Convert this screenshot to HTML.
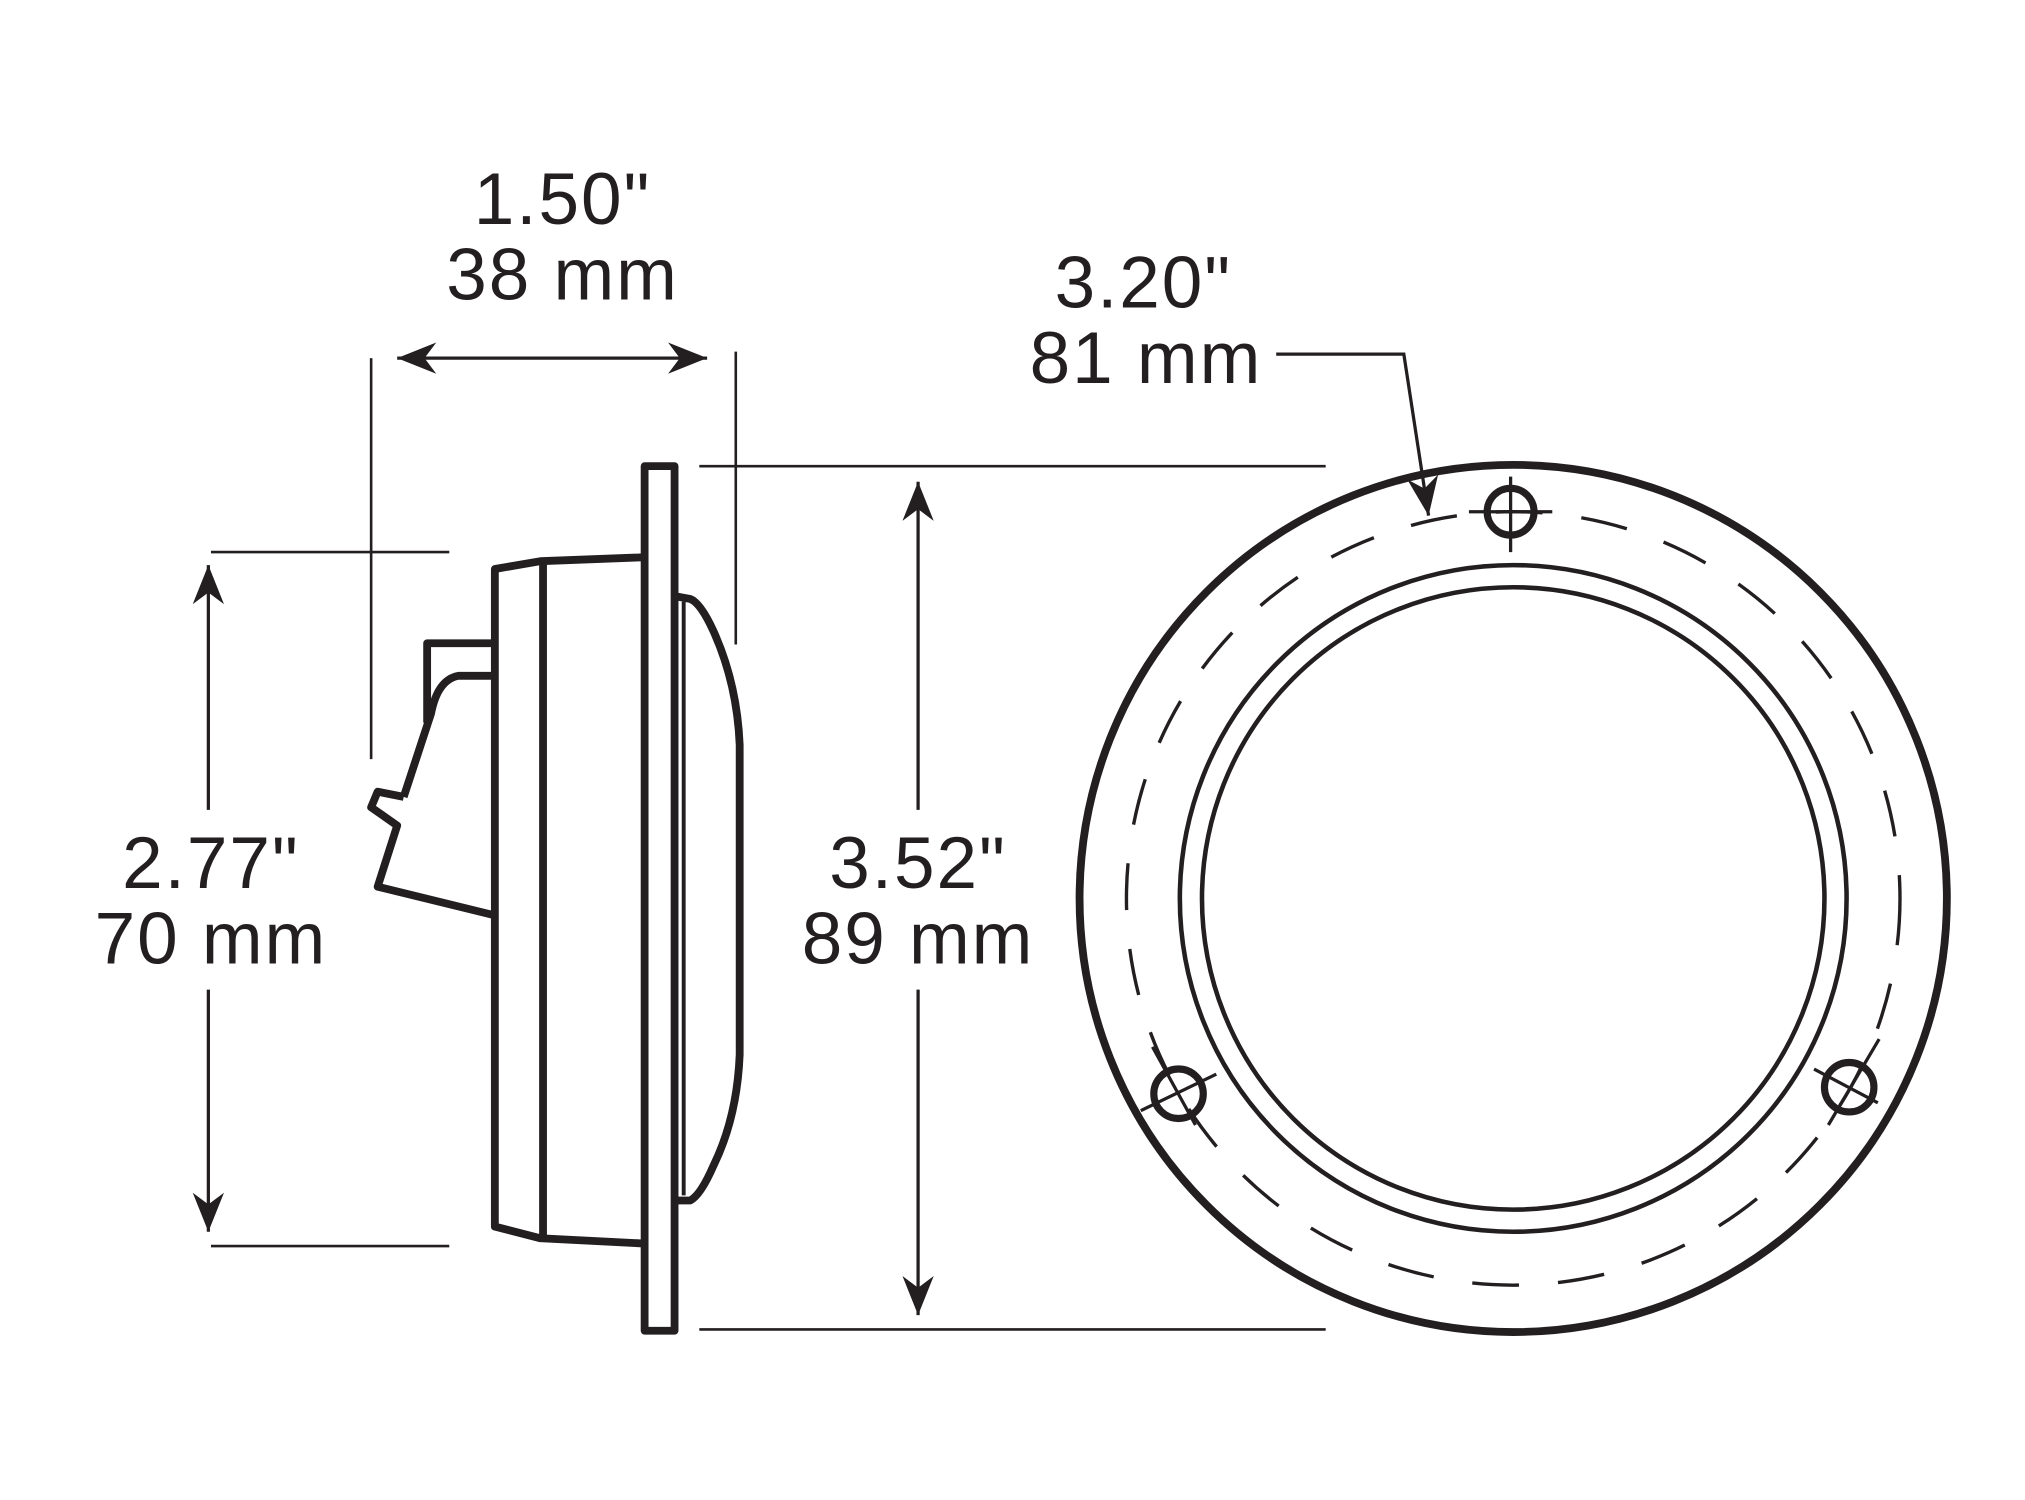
<!DOCTYPE html>
<html><head><meta charset="utf-8"><style>
html,body{margin:0;padding:0;background:#fff;}
svg{display:block;}
text{font-family:"Liberation Sans",Arial,sans-serif;font-size:56px;fill:#231f20;text-anchor:middle;letter-spacing:1.5px;}
</style></head><body>
<svg width="2025" height="1500" viewBox="0 0 1555 1152" preserveAspectRatio="none" xmlns="http://www.w3.org/2000/svg">
<defs>
<marker id="ah2" viewBox="0 0 10 10" refX="10" refY="5" markerWidth="30" markerHeight="30" markerUnits="userSpaceOnUse" orient="auto-start-reverse">
<path d="M0,1 L10,5 L0,9 L3,5 z" fill="#231f20"/></marker>
</defs>
<g stroke="#231f20" fill="none" stroke-linecap="butt">
<line x1="305" y1="275" x2="543" y2="275" stroke-width="2.5" marker-start="url(#ah2)" marker-end="url(#ah2)"/>
<line x1="285" y1="275" x2="285" y2="583" stroke-width="2"/>
<line x1="565" y1="270" x2="565" y2="495" stroke-width="2"/>
<line x1="537" y1="358" x2="1018" y2="358" stroke-width="2"/>
<line x1="537" y1="1021" x2="1018" y2="1021" stroke-width="2"/>
<line x1="705" y1="370" x2="705" y2="622" stroke-width="2.5" marker-start="url(#ah2)"/>
<line x1="705" y1="760" x2="705" y2="1010" stroke-width="2.5" marker-end="url(#ah2)"/>
<line x1="162" y1="424" x2="345" y2="424" stroke-width="2"/>
<line x1="162" y1="957" x2="345" y2="957" stroke-width="2"/>
<line x1="160" y1="434" x2="160" y2="622" stroke-width="2.5" marker-start="url(#ah2)"/>
<line x1="160" y1="760" x2="160" y2="946" stroke-width="2.5" marker-end="url(#ah2)"/>
<polyline points="980,272 1078,272 1097,396" stroke-width="2.5" marker-end="url(#ah2)"/>

<g stroke-width="6" stroke-linejoin="round">
<rect x="495" y="358" width="23" height="664"/>
<polyline points="494,428 415,431 380,437 380,942 415,951 494,955"/>
<line x1="417" y1="431" x2="417" y2="950"/>
<path d="M519,458 L530,460 Q538,463 548,485 Q566,525 568,572 L568,810 Q566,858 548,895 Q538,918 530,922 L519,922"/>
<line x1="525" y1="462" x2="525" y2="918" stroke-width="3"/>
<polyline points="380,494 328,494 328,555"/>
<path d="M380,519 L352,519 Q336,522 331,548 L310,612"/>
<polyline points="310,612 290,608 285,620 305,634 290,681 380,703"/>
</g>

<circle cx="1162" cy="690" r="333" stroke-width="6"/>
<circle cx="1162" cy="690" r="256" stroke-width="3.5"/>
<circle cx="1162" cy="690" r="239" stroke-width="3.5"/>
<circle cx="1162" cy="690" r="297" stroke-width="2.6" stroke-dasharray="36 30"/>
<g stroke-width="5.5">
<circle cx="1160" cy="393" r="18"/>
<circle cx="905" cy="840" r="19"/>
<circle cx="1420" cy="835" r="19"/>
</g>
<g stroke-width="2.5">
<line x1="1160" y1="366" x2="1160" y2="424"/>
<line x1="1128" y1="393" x2="1192" y2="393"/>
<line x1="885" y1="804" x2="918" y2="864"/>
<line x1="876" y1="853" x2="934" y2="825"/>
<line x1="1443" y1="798" x2="1404" y2="864"/>
<line x1="1393" y1="821" x2="1442" y2="847"/>
</g>
</g>
<text x="432" y="172">1.50"</text>
<text x="432" y="230">38 mm</text>
<text x="878" y="236">3.20"</text>
<text x="880" y="294">81 mm</text>
<text x="162" y="682">2.77"</text>
<text x="162" y="740">70 mm</text>
<text x="705" y="682">3.52"</text>
<text x="705" y="740">89 mm</text>
</svg>
</body></html>
